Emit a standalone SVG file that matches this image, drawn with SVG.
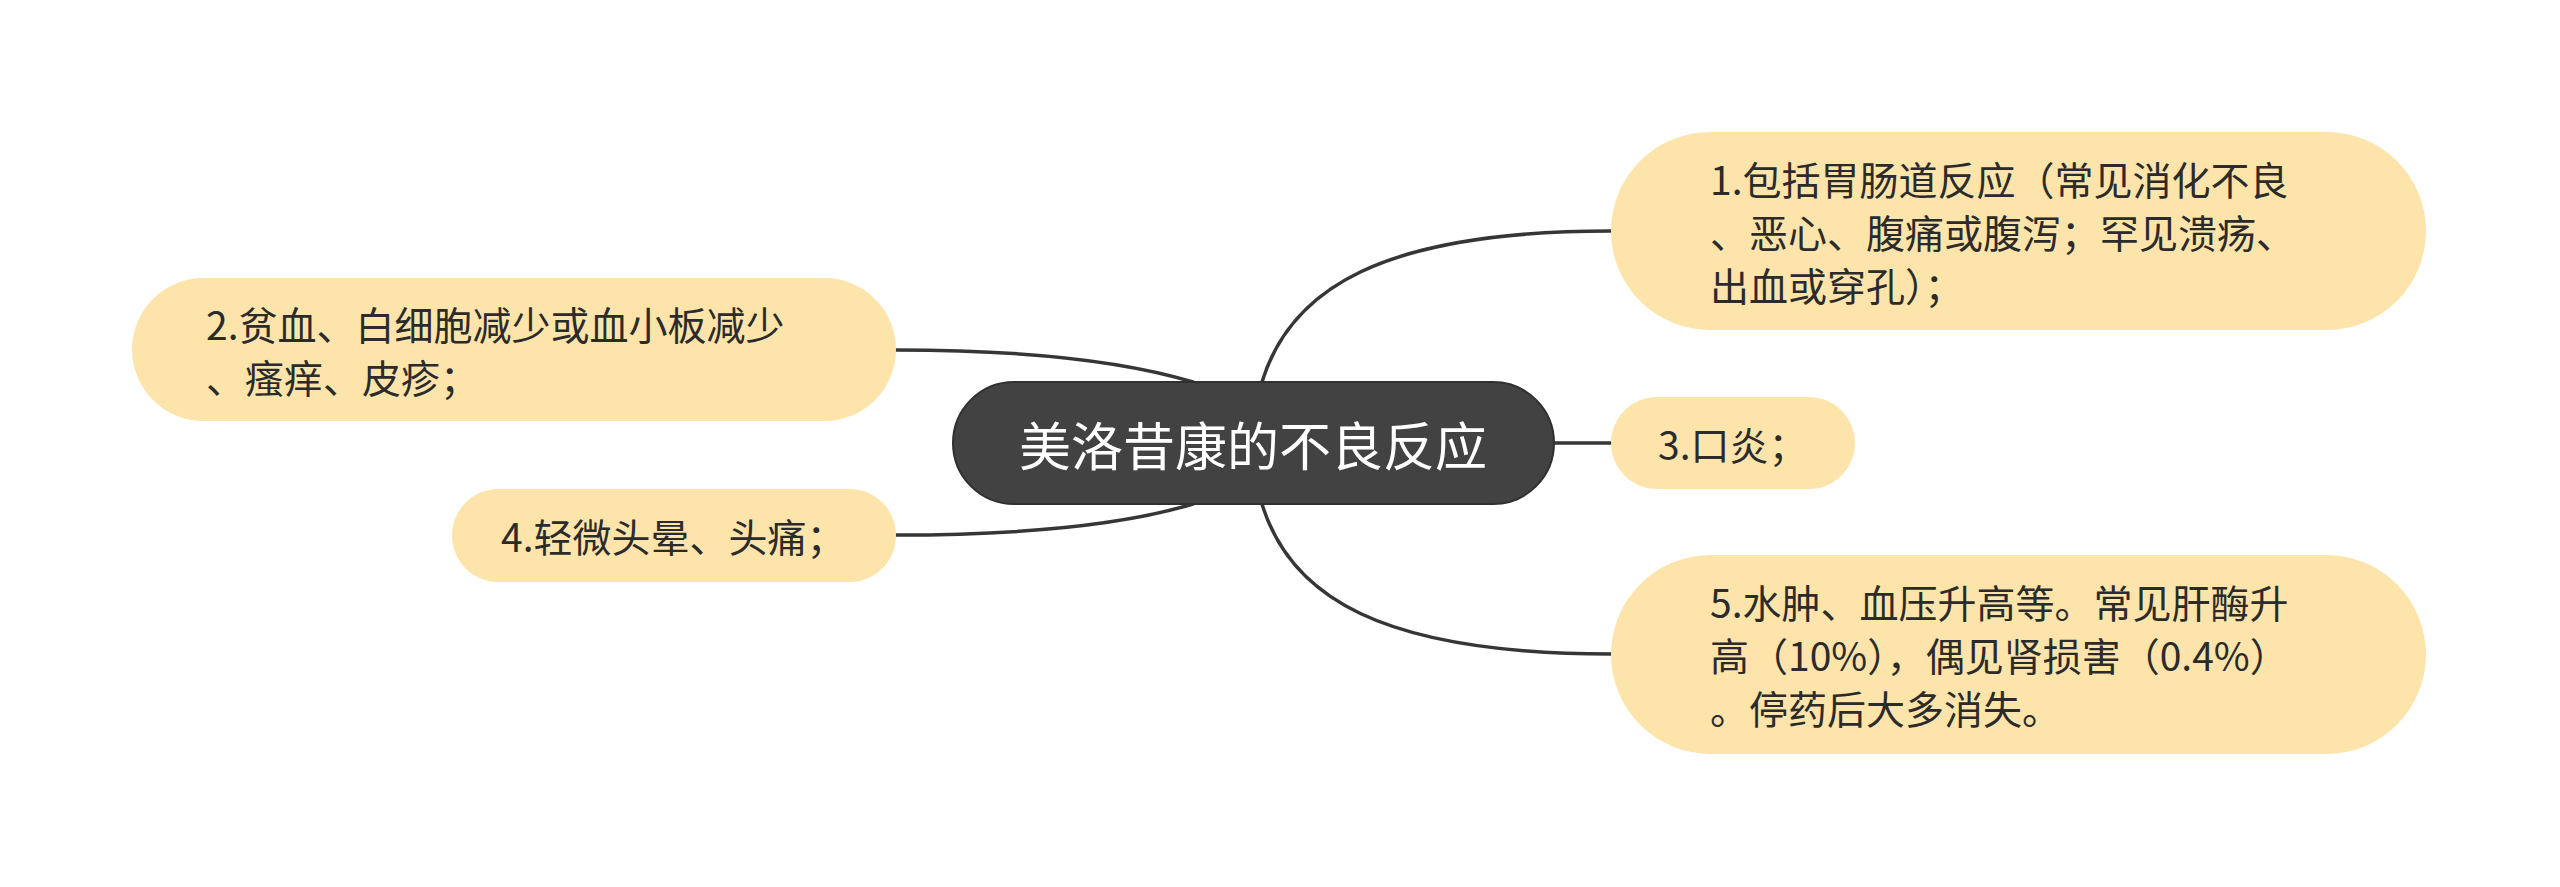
<svg xmlns="http://www.w3.org/2000/svg" width="2560" height="887" viewBox="0 0 2560 887">
<style>
.bg{fill:#ffffff}
.conn{fill:none;stroke:#363636;stroke-width:3.5;stroke-linecap:round}
.leaf{fill:#fde4aa}
.root{fill:#424242;stroke:#303030;stroke-width:2}
.t{font-family:"Noto Sans CJK SC","Noto Sans",sans-serif;font-size:39px;fill:#2b2b2b;dominant-baseline:central}
.rt{font-family:"Noto Sans CJK SC","Noto Sans",sans-serif;font-size:52px;fill:#ffffff;dominant-baseline:central;text-anchor:middle}
</style>
<rect class="bg" x="0" y="0" width="2560" height="887"/>
<g id="connectors">
<path class="conn" d="M1262,382 C1290,290 1380,231 1611,231"/>
<path class="conn" d="M1554,443 L1611,443"/>
<path class="conn" d="M1262,504 C1290,596 1380,654 1611,654"/>
<path class="conn" d="M896,350 C1020,350 1120,360 1193,382"/>
<path class="conn" d="M896,535 C1020,535 1120,526 1193,504"/>
</g>
<g id="root">
<rect class="root" x="953" y="382" width="601" height="122" rx="61" ry="61"/>
<text class="rt" x="1253" y="443">美洛昔康的不良反应</text>
</g>
<g id="node1">
<rect class="leaf" x="1611" y="132" width="815" height="198" rx="99" ry="99"/>
<text class="t" x="1710" y="178">1.包括胃肠道反应（常见消化不良</text>
<text class="t" x="1710" y="231">、恶心、腹痛或腹泻；罕见溃疡、</text>
<text class="t" x="1710" y="284">出血或穿孔）；</text>
</g>
<g id="node2">
<rect class="leaf" x="132" y="278" width="764" height="143" rx="71.5" ry="71.5"/>
<text class="t" x="206" y="323">2.贫血、白细胞减少或血小板减少</text>
<text class="t" x="206" y="376">、瘙痒、皮疹；</text>
</g>
<g id="node3">
<rect class="leaf" x="1611" y="397" width="244" height="92" rx="46" ry="46"/>
<text class="t" x="1658" y="443">3.口炎；</text>
</g>
<g id="node4">
<rect class="leaf" x="452" y="489" width="444" height="93" rx="46.5" ry="46.5"/>
<text class="t" x="501" y="535">4.轻微头晕、头痛；</text>
</g>
<g id="node5">
<rect class="leaf" x="1611" y="555" width="815" height="199" rx="99.5" ry="99.5"/>
<text class="t" x="1710" y="601">5.水肿、血压升高等。常见肝酶升</text>
<text class="t" x="1710" y="654">高（10%），偶见肾损害（0.4%）</text>
<text class="t" x="1710" y="707">。停药后大多消失。</text>
</g>
</svg>
